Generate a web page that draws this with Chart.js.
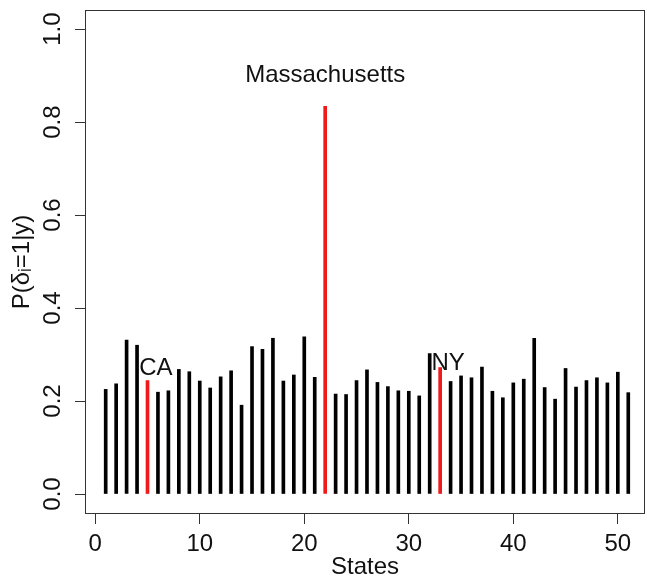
<!DOCTYPE html>
<html>
<head>
<meta charset="utf-8">
<script src="https://cdn.jsdelivr.net/npm/chart.js@4"></script>
<style>
  body { margin: 0; background: #fff; }
  #wrap { width: 647px; height: 580px; }
</style>
</head>
<body>
<div id="wrap"><canvas id="stateChart"></canvas></div>
<script>
// posterior probability per state (index 1..51)
const states = Array.from({ length: 51 }, (_, i) => i + 1);
const probs = [
  0.225, 0.237, 0.331, 0.320, 0.244, 0.219, 0.222, 0.268, 0.263, 0.243,
  0.228, 0.252, 0.265, 0.191, 0.317, 0.311, 0.335, 0.243, 0.256, 0.338,
  0.251, 0.834, 0.215, 0.214, 0.244, 0.267, 0.240, 0.231, 0.222, 0.221,
  0.211, 0.302, 0.272, 0.242, 0.254, 0.250, 0.273, 0.221, 0.207, 0.239,
  0.247, 0.335, 0.229, 0.204, 0.270, 0.230, 0.244, 0.250, 0.239, 0.262,
  0.218
];
const highlighted = [5, 22, 33];
const stateNames = ["CA", "Massachusetts", "NY"];
const nameX = [5.8, 22.0, 33.76];
const nameY = [0.271, 0.901, 0.282];
const xTicks = [0, 10, 20, 30, 40, 50];
const yTicks = [0, 0.2, 0.4, 0.6, 0.8, 1.0];

const FONT = "'Liberation Sans', Arial, Helvetica, sans-serif";

// box around plot + state names
const extras = {
  id: "extras",
  afterDraw(chart) {
    const { ctx, chartArea: a, scales } = chart;
    ctx.save();
    ctx.strokeStyle = "#333";
    ctx.lineWidth = 1;
    ctx.strokeRect(a.left + 0.5, a.top + 0.5, a.right - a.left - 1, a.bottom - a.top - 1);
    ctx.fillStyle = "#111";
    ctx.font = "24px " + FONT;
    ctx.textAlign = "center";
    ctx.textBaseline = "middle";
    stateNames.forEach((n, i) => {
      ctx.fillText(n, scales.x.getPixelForValue(nameX[i]), scales.y.getPixelForValue(nameY[i]));
    });
    ctx.restore();
  }
};

document.addEventListener("DOMContentLoaded", () => {
  const ctx = document.getElementById("stateChart");

  new Chart(ctx, {
    type: "bar",
    data: {
      datasets: [{
        data: states.map((s, i) => ({ x: s, y: probs[i] })),
        backgroundColor: states.map(s => highlighted.includes(s) ? "#f01a1a" : "#000"),
        barThickness: 3,
        borderWidth: 0
      }]
    },
    options: {
      responsive: true,
      maintainAspectRatio: false,
      animation: false,
      layout: { padding: { top: 10, right: 2, left: 0, bottom: 0 } },
      plugins: { legend: { display: false }, tooltip: { enabled: false } },
      scales: {
        x: {
          type: "linear",
          offset: false,
          min: -0.98,
          max: 52.6,
          afterBuildTicks: s => { s.ticks = xTicks.map(v => ({ value: v })); },
          afterFit: s => { s.height = 66; s.paddingLeft = 0; s.paddingRight = 0; },
          border: { display: false },
          grid: { offset: false, drawOnChartArea: false, drawTicks: true, tickLength: 10, color: "#333" },
          ticks: { color: "#111", padding: 6, font: { family: FONT, size: 24 }, maxRotation: 0, autoSkip: false },
          title: {
            display: true, text: "States", color: "#111",
            font: { family: FONT, size: 24, lineHeight: 1 }, padding: { top: 0, bottom: 1 }
          }
        },
        y: {
          min: -0.043,
          max: 1.041,
          afterBuildTicks: s => { s.ticks = yTicks.map(v => ({ value: v })); },
          afterFit: s => { s.width = 85; s.paddingTop = 0; s.paddingBottom = 0; },
          border: { display: false },
          grid: { drawOnChartArea: false, drawTicks: true, tickLength: 10, color: "#333" },
          ticks: {
            color: "#111", padding: 5, minRotation: 90, maxRotation: 90, crossAlign: "center",
            font: { family: FONT, size: 24 },
            callback: v => Number(v).toFixed(1)
          },
          title: {
            display: true, text: "P(δᵢ=1|y)", color: "#111",
            font: { family: FONT, size: 24, lineHeight: 1 }, padding: { top: 10, bottom: 0 }
          }
        }
      }
    },
    plugins: [extras]
  });
});
</script>
</body>
</html>
